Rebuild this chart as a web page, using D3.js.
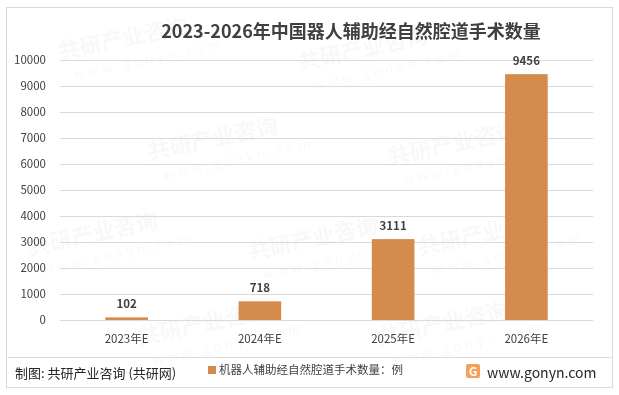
<!DOCTYPE html>
<html>
<head>
<meta charset="utf-8">
<script src="https://cdn.jsdelivr.net/npm/d3@7"></script>
<style>
  body { margin: 0; background: #fff; }
  svg text { font-family: "Microsoft YaHei", "Noto Sans CJK SC", sans-serif; }
</style>
</head>
<body>
<div id="chart"></div>
<script>
// data
const years = ["2023年E", "2024年E", "2025年E", "2026年E"],
  values = [102, 718, 3111, 9456],
  yTicks = [0, 1000, 2000, 3000, 4000, 5000, 6000, 7000, 8000, 9000, 10000];

const W = 619, H = 395,
  m = { top: 60, right: 26, bottom: 75, left: 60 },
  barColor = "#D48B4C";

const svg = d3.select("#chart").append("svg")
  .attr("width", W)
  .attr("height", H);

// frame
svg.append("rect")
  .attr("x", 6.5).attr("y", 7.5)
  .attr("width", 606).attr("height", 380)
  .attr("fill", "#fff")
  .attr("stroke", "#d9d9d9");

// watermark (faint, kept inside the frame)
const wmPos = [[60, 60], [300, 70], [150, 160], [390, 165], [30, 255], [250, 260], [420, 255], [140, 345], [380, 345]];
const wm = svg.append("g").attr("fill", "#000").attr("opacity", 0.03);
wmPos.forEach(([x, y]) => {
  const g = wm.append("g").attr("transform", `translate(${x},${y}) rotate(-12)`);
  g.append("text").attr("font-size", 22).attr("font-weight", "bold").text("共研产业咨询");
  g.append("text").attr("y", 22).attr("x", 10).attr("font-size", 13).attr("letter-spacing", 4).text("www.gonyn.com");
});

const x = d3.scaleBand()
  .domain(years)
  .range([m.left, W - m.right])
  .paddingInner(0.68)
  .paddingOuter(0.34);

const y = d3.scaleLinear()
  .domain([0, 10000])
  .range([H - m.bottom, m.top]);

// gridlines
svg.append("g")
  .selectAll("line")
  .data(yTicks)
  .enter()
  .append("line")
  .attr("x1", m.left).attr("x2", W - m.right)
  .attr("y1", d => y(d) + 0.5).attr("y2", d => y(d) + 0.5)
  .attr("stroke", "#d9d9d9");

// y axis
const yAxis = svg.append("g")
  .attr("transform", `translate(${m.left - 11},0)`)
  .call(d3.axisLeft(y).tickValues(yTicks).tickSize(0).tickFormat(d3.format("d")));
yAxis.select(".domain").remove();
yAxis.selectAll("text").attr("font-size", 11.5).attr("fill", "#404040");

// x axis
const xAxis = svg.append("g")
  .attr("transform", `translate(0,${H - m.bottom + 12})`)
  .call(d3.axisBottom(x).tickSize(0));
xAxis.select(".domain").remove();
xAxis.selectAll("text").attr("font-size", 11.5).attr("fill", "#404040");

// bars
svg.selectAll(".bar")
  .data(values)
  .enter()
  .append("rect")
  .attr("class", "bar")
  .attr("x", (d, i) => x(years[i]))
  .attr("y", d => y(d))
  .attr("width", x.bandwidth())
  .attr("height", d => y(0) - y(d))
  .attr("fill", barColor);

// labels
svg.selectAll(".lbl")
  .data(values)
  .enter()
  .append("text")
  .attr("class", "lbl")
  .attr("x", (d, i) => x(years[i]) + x.bandwidth() / 2)
  .attr("y", d => y(d) - 9)
  .attr("text-anchor", "middle")
  .attr("font-size", 11.5)
  .attr("font-weight", "bold")
  .attr("fill", "#404040")
  .text(d => d);

// title
svg.append("text")
  .attr("x", 351).attr("y", 38)
  .attr("text-anchor", "middle")
  .attr("font-size", 18)
  .attr("font-weight", "bold")
  .attr("fill", "#404040")
  .text("2023-2026年中国器人辅助经自然腔道手术数量");

// footer separator
svg.append("line")
  .attr("x1", 8).attr("x2", 611)
  .attr("y1", 357.5).attr("y2", 357.5)
  .attr("stroke", "#d9d9d9");

svg.append("text")
  .attr("x", 15).attr("y", 378)
  .attr("font-size", 13)
  .attr("fill", "#262626")
  .text("制图: 共研产业咨询 (共研网)");

// legend
svg.append("rect")
  .attr("x", 208).attr("y", 366)
  .attr("width", 8).attr("height", 8)
  .attr("fill", barColor);
svg.append("text")
  .attr("x", 219).attr("y", 374)
  .attr("font-size", 11.5)
  .attr("fill", "#404040")
  .text("机器人辅助经自然腔道手术数量：例");

// logo
const logo = svg.append("g").attr("transform", "translate(466,364)");
logo.append("rect").attr("width", 14).attr("height", 14).attr("rx", 2).attr("fill", "#f4a05a");
logo.append("text").attr("x", 7).attr("y", 11.5).attr("text-anchor", "middle")
  .attr("font-size", 12).attr("font-weight", "bold").attr("fill", "#fff").text("G");
svg.append("text")
  .attr("x", 487).attr("y", 378)
  .attr("font-size", 14)
  .attr("fill", "#262626")
  .text("www.gonyn.com");
</script>
</body>
</html>
